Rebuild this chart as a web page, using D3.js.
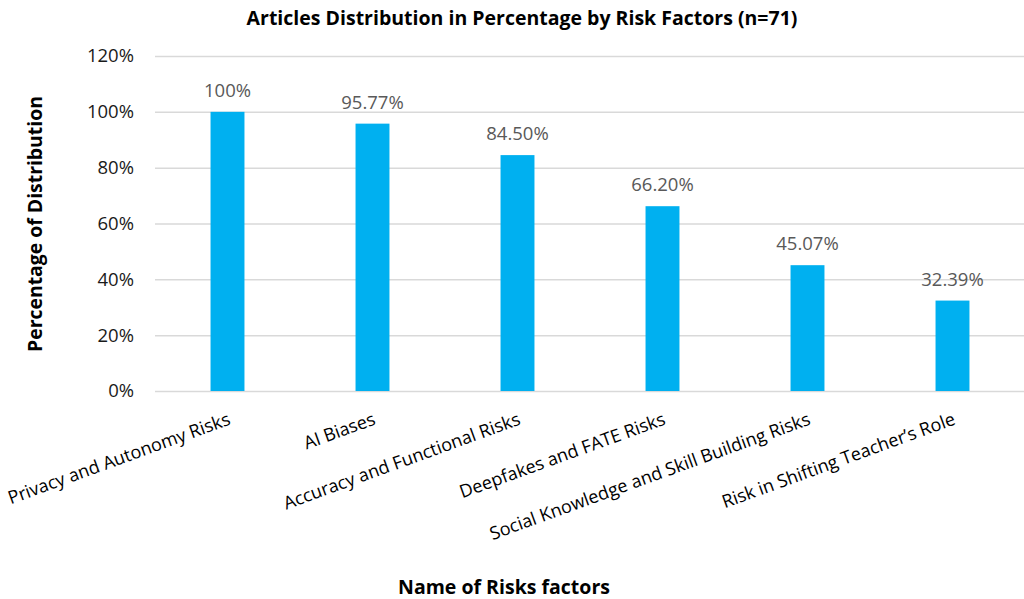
<!DOCTYPE html>
<meta charset="utf-8">
<head>
  <title>Risk factors</title>
  <script src="https://cdnjs.cloudflare.com/ajax/libs/d3/7.8.5/d3.min.js"></script>
  <style>
    body { margin: 0; background: #fff; }
    text { font-family: "Open Sans", sans-serif; }
  </style>
</head>
<body>
<div id="chart"></div>
<script>
  var WIDTH = 1024
  var HEIGHT = 599

  var categories = ["Privacy and Autonomy Risks", "AI Biases", "Accuracy and Functional Risks",
    "Deepfakes and FATE Risks", "Social Knowledge and Skill Building Risks", "Risk in Shifting Teacher\u2019s Role"]
  var values = [100, 95.77, 84.50, 66.20, 45.07, 32.39]
  var valueLabels = ["100%", "95.77%", "84.50%", "66.20%", "45.07%", "32.39%"]
  var yTicks = [0, 20, 40, 60, 80, 100, 120]

  var svg = d3.select("#chart").append("svg")
    .attr("width", WIDTH)
    .attr("height", HEIGHT)

  var x = d3.scaleBand()
    .domain(categories)
    .range([155, 1025])
    .paddingInner(0.766)
    .paddingOuter(0.383)

  var y = d3.scaleLinear()
    .domain([0, 120])
    .range([391, 56])

  // gridlines + y labels
  var yAxis = svg.append("g")
    .attr("transform", "translate(155,0)")
    .call(d3.axisLeft(y).tickValues(yTicks).tickSize(-870).tickFormat(function(d) { return d + "%" }))
  yAxis.select(".domain").remove()
  yAxis.selectAll("line").attr("stroke", "#d9d9d9").attr("stroke-width", 1.5)
  yAxis.selectAll("text")
    .attr("x", -21)
    .attr("fill", "#1a1a1a")
    .style("font-size", "18.5px")
    .style("font-family", "Open Sans, sans-serif")

  svg.selectAll(".bar")
    .data(values)
    .enter().append("rect")
    .attr("class", "bar")
    .attr("x", function(d, i) { return x(categories[i]) })
    .attr("y", function(d) { return y(d) })
    .attr("width", x.bandwidth())
    .attr("height", function(d) { return y(0) - y(d) })
    .attr("fill", "#00b0f0")

  svg.selectAll(".val")
    .data(values)
    .enter().append("text")
    .attr("class", "val")
    .attr("x", function(d, i) { return x(categories[i]) + x.bandwidth() / 2 })
    .attr("y", function(d) { return y(d) - 15 })
    .attr("text-anchor", "middle")
    .attr("fill", "#595959")
    .style("font-size", "18.5px")
    .text(function(d, i) { return valueLabels[i] })

  // rotated category labels
  svg.selectAll(".cat")
    .data(categories)
    .enter().append("text")
    .attr("class", "cat")
    .attr("text-anchor", "end")
    .attr("transform", function(d) {
      return "translate(" + (x(d) + x.bandwidth() / 2 + 4) + ",424) rotate(-20)"
    })
    .attr("fill", "#000")
    .style("font-size", "18px")
    .text(function(d) { return d })

  svg.append("text")
    .attr("x", 522)
    .attr("y", 25)
    .attr("text-anchor", "middle")
    .style("font-size", "19.5px")
    .style("font-weight", "bold")
    .text("Articles Distribution in Percentage by Risk Factors (n=71)")

  svg.append("text")
    .attr("transform", "translate(42,224) rotate(-90)")
    .attr("text-anchor", "middle")
    .style("font-size", "19.4px")
    .style("font-weight", "bold")
    .text("Percentage of Distribution")

  svg.append("text")
    .attr("x", 504)
    .attr("y", 594)
    .attr("text-anchor", "middle")
    .style("font-size", "19.5px")
    .style("font-weight", "bold")
    .text("Name of Risks factors")
</script>
</body>
